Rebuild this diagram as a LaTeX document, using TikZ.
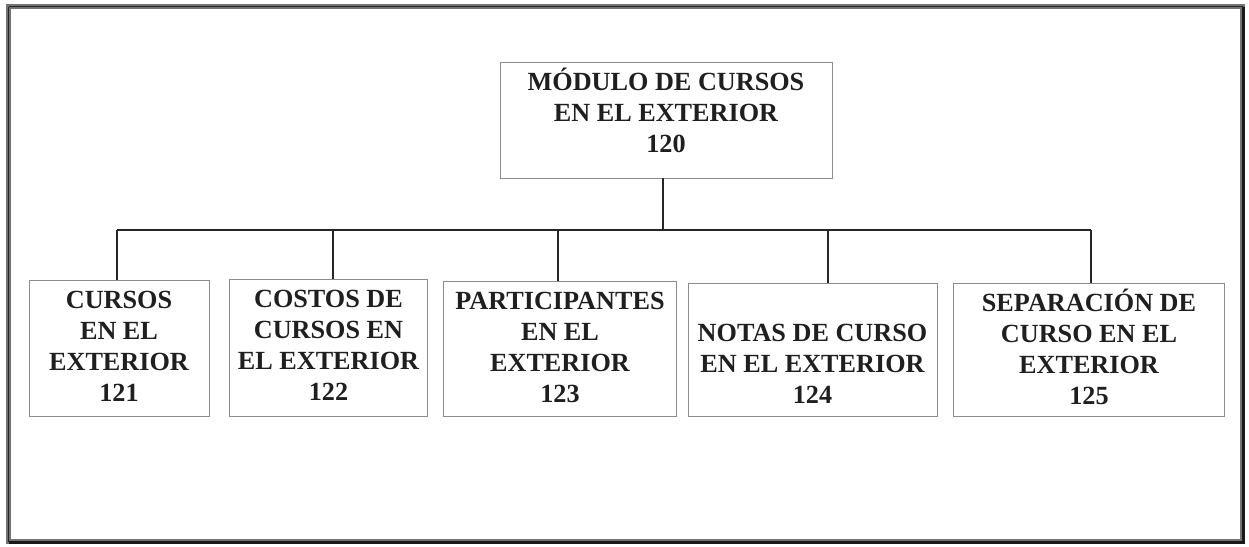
\documentclass[tikz,border=0pt]{standalone}
\usepackage{fontspec}
\setmainfont{Liberation Serif}
\begin{document}
\begin{tikzpicture}[x=1pt,y=-1pt,
  box/.style={draw=black!45, line width=0.9pt, inner sep=0pt},
  lbl/.style={font=\bfseries\fontsize{26.2}{31}\selectfont, text=black!88, align=center, inner sep=0pt},
  conn/.style={draw=black!85, line width=1.3pt},
  frame/.style={draw=black!55, line width=5pt}]
\useasboundingbox (0,0) rectangle (1249,546);
% outer frame
\draw[frame] (8.5,6.5) rectangle (1242.5,541.5);
\draw[draw=black!85, line width=1.2pt] (8.5,6.5) -- (1242.5,6.5);
\draw[draw=black!85, line width=1.2pt] (8.5,6.5) -- (8.5,541.5);
\draw[draw=black!90, line width=3pt] (1243.5,6.5) -- (1243.5,542.5) -- (8.5,542.5);
% boxes
\node[box, minimum width=332pt, minimum height=116pt] (b0) at (666,120) {};
\node[box, minimum width=180pt, minimum height=136pt] (b1) at (119,348) {};
\node[box, minimum width=198pt, minimum height=137pt] (b2) at (328,347.5) {};
\node[box, minimum width=233pt, minimum height=135pt] (b3) at (559.5,348.5) {};
\node[box, minimum width=249pt, minimum height=133pt] (b4) at (812.5,349.5) {};
\node[box, minimum width=271pt, minimum height=133pt] (b5) at (1088.5,349.5) {};
% labels
\node[lbl] (t0) at (666,110) {MÓDULO DE CURSOS\\EN EL EXTERIOR\\120};
\node[lbl] (t1) at (119,346) {CURSOS\\EN EL\\EXTERIOR\\121};
\node[lbl] (t2) at (328.5,345) {COSTOS DE\\CURSOS EN\\EL EXTERIOR\\122};
\node[lbl] (t3) at (560,347) {PARTICIPANTES\\EN EL\\EXTERIOR\\123};
\node[lbl] (t4) at (812.5,364) {NOTAS DE CURSO\\EN EL EXTERIOR\\124};
\node[lbl] (t5) at (1089,346.5) {SEPARACIÓN DE\\CURSO EN EL\\EXTERIOR\\125};
% connectors
\coordinate (s0) at (663,231);
\coordinate (s1) at (117,230);
\coordinate (s2) at (333,230);
\coordinate (s3) at (558,230);
\coordinate (s4) at (828,230);
\coordinate (s5) at (1091,230);
\draw[conn] (b0.south -| s0) -- (s0);
\draw[conn] (s1) -- (s5);
\draw[conn] (s1) -- (s1 |- b1.north);
\draw[conn] (s2) -- (s2 |- b2.north);
\draw[conn] (s3) -- (s3 |- b3.north);
\draw[conn] (s4) -- (s4 |- b4.north);
\draw[conn] (s5) -- (s5 |- b5.north);
\end{tikzpicture}
\end{document}
